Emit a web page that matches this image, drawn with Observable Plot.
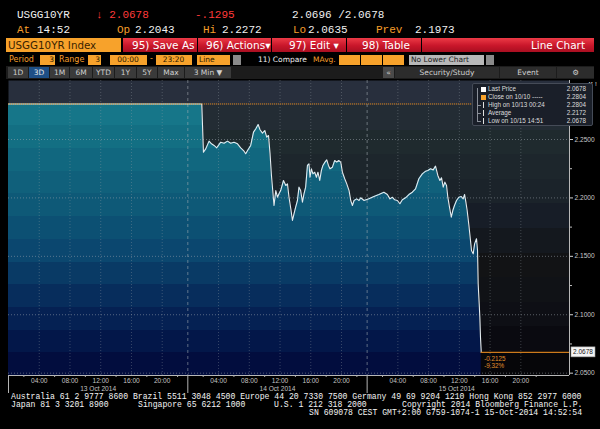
<!DOCTYPE html>
<html><head><meta charset="utf-8">
<script src="https://cdn.jsdelivr.net/npm/d3@7"></script>
<script src="https://cdn.jsdelivr.net/npm/@observablehq/plot@0.6"></script>
<style>
html,body{margin:0;padding:0;background:#000;}
body{width:600px;height:429px;overflow:hidden;position:relative;}
.a{position:absolute;white-space:pre;line-height:1;}
.m{font-family:"Liberation Mono","DejaVu Sans Mono",monospace;}
.s{font-family:"DejaVu Sans",sans-serif;}
.w{color:#f0f0f0}.o{color:#f59d2a}.r{color:#ff3a3a}
.box{position:absolute;box-sizing:border-box;}
.btn{position:absolute;top:38px;height:14px;background:linear-gradient(#ec3a46,#c8162a 55%,#a90f21);color:#fff;font:10.5px "DejaVu Sans",sans-serif;line-height:14px;white-space:pre;box-sizing:border-box;}
.ob{position:absolute;top:55px;height:10px;background:#f7a22b;color:#2a1800;font:7.5px "DejaVu Sans",sans-serif;line-height:10px;text-align:right;padding-right:1px;box-sizing:border-box;}
.tab{position:absolute;top:67px;height:11px;background:#3a3a3a;color:#cfcfcf;font:7.5px "DejaVu Sans",sans-serif;line-height:11px;text-align:center;}
.lg{position:absolute;font:6.3px "Liberation Sans",Arial,sans-serif;color:#dcdcdc;white-space:pre;line-height:1;}
.ft{position:absolute;font:8.15px "Liberation Mono",monospace;color:#f4f4f4;white-space:pre;line-height:1;}
</style></head><body>

<!-- header row 1 -->
<div class="a m w" style="left:17px;top:10px;font-size:11px">USGG10YR</div>
<div class="a m r" style="left:96px;top:10px;font-size:11px">↓ 2.0678</div>
<div class="a m r" style="left:195px;top:10px;font-size:11px">-.1295</div>
<div class="a m w" style="left:292px;top:10px;font-size:11px">2.0696 /2.0678</div>
<!-- header row 2 -->
<div class="a m o" style="left:17px;top:25px;font-size:11px">At</div>
<div class="a m w" style="left:37px;top:25px;font-size:11px">14:52</div>
<div class="a m o" style="left:117px;top:25px;font-size:11px">Op</div>
<div class="a m w" style="left:135px;top:25px;font-size:11px">2.2043</div>
<div class="a m o" style="left:203px;top:25px;font-size:11px">Hi</div>
<div class="a m w" style="left:222px;top:25px;font-size:11px">2.2272</div>
<div class="a m o" style="left:293px;top:25px;font-size:11px">Lo</div>
<div class="a m w" style="left:308px;top:25px;font-size:11px">2.0635</div>
<div class="a m o" style="left:376px;top:25px;font-size:11px">Prev</div>
<div class="a m w" style="left:415px;top:25px;font-size:11px">2.1973</div>

<!-- row 3 -->
<div class="box" style="left:6px;top:38px;width:115px;height:14px;background:#f7a22b;color:#3a2300;font:10.3px 'DejaVu Sans',sans-serif;line-height:14px;padding-left:2px;white-space:pre">USGG10YR Index</div>
<div class="btn" style="left:123px;width:74px;padding-left:9px">95) Save As</div>
<div class="btn" style="left:198px;width:73px;padding-left:8px">96) Actions▾</div>
<div class="btn" style="left:272px;width:74px;padding-left:17px">97) Edit ▾</div>
<div class="btn" style="left:347px;width:74px;padding-left:15px">98) Table</div>
<div class="btn" style="left:422px;width:172px;text-align:right;padding-right:9px">Line Chart</div>

<!-- row 4 -->
<div class="a s o" style="left:9px;top:56px;font-size:8px">Period</div>
<div class="ob" style="left:40px;width:15px">3</div>
<div class="a s o" style="left:59px;top:56px;font-size:8px">Range</div>
<div class="ob" style="left:88px;width:13px">3</div>
<div class="ob" style="left:110px;width:37px;text-align:center">00:00</div>
<div class="a s o" style="left:150px;top:55px;font-size:8px">-</div>
<div class="ob" style="left:156px;width:36px;text-align:center">23:20</div>
<div class="ob" style="left:197px;width:33px;text-align:left;padding-left:2px">Line</div>
<div class="box" style="left:233px;top:55px;width:8px;height:10px;background:#8a8a8a"></div>
<div class="a s w" style="left:258px;top:56px;font-size:7.5px">11) Compare</div>
<div class="a s o" style="left:313px;top:56px;font-size:7.5px">MAvg.</div>
<div class="ob" style="left:339px;width:21px"></div>
<div class="ob" style="left:361px;width:21px"></div>
<div class="ob" style="left:383px;width:21px"></div>
<div class="box" style="left:409px;top:55px;width:75px;height:10px;background:#b8b8b8;color:#222;font:7.5px 'DejaVu Sans',sans-serif;line-height:10px;padding-left:2px;white-space:pre">No Lower Chart</div>
<div class="box" style="left:486px;top:55px;width:8px;height:10px;background:#8a8a8a"></div>

<!-- row 5 -->
<div class="box" style="left:6px;top:66px;width:588px;height:13px;background:#1c1c1c"></div>
<div class="tab" style="left:8px;width:20px">1D</div>
<div class="tab" style="left:29px;width:20px;background:#1e4f86;color:#e8e8e8">3D</div>
<div class="tab" style="left:50px;width:19px">1M</div>
<div class="tab" style="left:70px;width:22px">6M</div>
<div class="tab" style="left:93px;width:21px">YTD</div>
<div class="tab" style="left:115px;width:21px">1Y</div>
<div class="tab" style="left:137px;width:20px">5Y</div>
<div class="tab" style="left:158px;width:26px">Max</div>
<div class="tab" style="left:185px;width:46px">3 Min ▼</div>
<div class="tab" style="left:383px;width:11px;background:#4a4a4a">«</div>
<div class="tab" style="left:395px;width:104px;background:#2c2c2c">   Security/Study</div>
<div class="tab" style="left:500px;width:56px;background:#2c2c2c">  Event</div>
<div class="tab" style="left:557px;width:37px;background:#2c2c2c">⚙</div>

<div id="chart" style="position:absolute;left:0;top:78px;"></div>

<!-- legend -->
<div id="legend" class="box" style="left:472px;top:83px;width:121px;height:43px;background:#1a1f29;border:1px solid #454b57;border-radius:2px"></div>

<!-- footer -->
<div class="ft" style="left:11px;top:393px">Australia 61 2 9777 8600 Brazil 5511 3048 4500 Europe 44 20 7330 7500 Germany 49 69 9204 1210 Hong Kong 852 2977 6000</div>
<div class="ft" style="left:11px;top:401px">Japan 81 3 3201 8900</div>
<div class="ft" style="left:138px;top:401px">Singapore 65 6212 1000</div>
<div class="ft" style="left:274px;top:401px">U.S. 1 212 318 2000</div>
<div class="ft" style="left:402px;top:401px">Copyright 2014 Bloomberg Finance L.P.</div>
<div class="ft" style="left:309px;top:409px">SN 609078 CEST GMT+2:00 G759-1074-1 15-Oct-2014 14:52:54</div>

<script>
// ---------- data ----------
const times = [
"13 00:00","14 01:49","14 02:02","14 02:20","14 02:46","14 03:05","14 03:25","14 03:46","14 04:17","14 04:43",
"14 05:10","14 05:35","14 06:01","14 06:28","14 06:53","14 07:19","14 07:32","14 07:50","14 08:11","14 08:33",
"14 08:51","14 09:09","14 09:24","14 09:43","14 10:01","14 10:16","14 10:30","14 10:42","14 10:53","14 11:03",
"14 11:13","14 11:27","14 11:40","14 11:52","14 12:05","14 12:27","14 12:45","14 12:58","14 13:10","14 13:24",
"14 13:37","14 13:49","14 14:02","14 14:16","14 14:28","14 14:41","14 14:55","14 15:07","14 15:20","14 15:34",
"14 15:46","14 15:54","14 16:05","14 16:17","14 16:31","14 16:44","14 16:56","14 17:10","14 17:23","14 17:35",
"14 17:51","14 18:05","14 18:18","14 18:30","14 18:49","14 19:07","14 19:23","14 19:38","14 19:54","14 20:07",
"14 20:25","14 20:41","14 20:59","14 21:12","14 21:25","14 21:38","14 21:59","14 22:17","14 22:30","14 22:56",
"15 00:14","15 00:53","15 01:32","15 02:11","15 02:38","15 02:58","15 03:17","15 03:35","15 03:56","15 04:16",
"15 04:35","15 05:00","15 05:26","15 05:53","15 06:18","15 06:44","15 07:11","15 07:37","15 07:54","15 08:15",
"15 08:36","15 08:54","15 09:12","15 09:28","15 09:41","15 09:54","15 10:07","15 10:20","15 10:30","15 10:43",
"15 10:57","15 11:09","15 11:22","15 11:38","15 11:56","15 12:15","15 12:30","15 12:41","15 12:51","15 13:01",
"15 13:14","15 13:27","15 13:35","15 13:48","15 13:59","15 14:14","15 14:22","15 14:27","15 14:35","15 14:40",
"15 14:45","15 14:51"];
const yields = [
2.2804,2.2804,2.2391,2.2420,2.2486,2.2463,2.2449,2.2429,2.2477,2.2468,
2.2486,2.2468,2.2477,2.2463,2.2429,2.2400,2.2378,2.2412,2.2449,2.2563,
2.2592,2.2628,2.2583,2.2554,2.2577,2.2520,2.2534,2.2378,2.2192,2.2063,
2.1935,2.2063,2.2006,2.2035,2.2063,2.2149,2.2106,2.2120,2.2006,2.1908,
2.1807,2.1864,2.1921,2.1978,2.2092,2.2063,2.1964,2.2035,2.2092,2.2278,
2.2292,2.2177,2.2249,2.2206,2.2220,2.2177,2.2220,2.2149,2.2235,2.2278,
2.2306,2.2326,2.2278,2.2249,2.2263,2.2320,2.2306,2.2320,2.2306,2.2220,
2.2164,2.2120,2.2063,2.1978,2.1935,2.1978,2.1992,2.1978,2.2001,2.1978,
2.1992,2.2012,2.2029,2.2049,2.2029,2.1992,2.2006,2.1984,2.1978,2.1950,
2.1984,2.2001,2.2029,2.2049,2.2078,2.2164,2.2206,2.2229,2.2235,2.2249,
2.2240,2.2272,2.2192,2.2149,2.2172,2.2092,2.2135,2.2106,2.2006,2.1921,
2.1835,2.1892,2.1935,2.1978,2.2006,2.2012,2.1992,2.2029,2.1964,2.1892,
2.1770,2.1635,2.1550,2.1521,2.1607,2.1650,2.1550,2.1264,2.1093,2.0979,
2.0808,2.0678];

const prevClose = 2.2804;
const lastPrice = 2.0678;
const changeLabels = ["-0.2125","-9.32%"];

const dayNums = [13,14,15];
const dayLabels = ["13 Oct 2014","14 Oct 2014","15 Oct 2014"];
const hourLabels = ["04:00","08:00","12:00","16:00","20:00"];
const minorHourLabels = ["02:00","06:00","10:00","14:00","18:00","22:00"];
const yTicks = [2.05,2.10,2.15,2.20,2.25];
const yMinorTicks = [2.075,2.125,2.175,2.225,2.275];

const legendLabels = ["Last Price","Close on 10/10 -----","High on 10/13 00:24","Average","Low on 10/15 14:51"];
const legendValues = ["2.0678","2.2804","2.2804","2.2172","2.0678"];

// ---------- session-compressed time axis (00:00–23:20 each day) ----------
const DAY = 23 + 1/3;
function pos(s){const [d,hm]=s.split(" ");const [h,m]=hm.split(":").map(Number);return (+d-13)*DAY+h+m/60;}
const data = times.map((t,i)=>({x:pos(t), y:yields[i]}));

const xDomain = [0, 73];
const yDomain = [2.048, 2.3005];

const majorX = [], majorLab = new Map();
dayNums.forEach(d=>hourLabels.forEach(h=>{const p=pos(d+" "+h);majorX.push(p);majorLab.set(p.toFixed(3),h);}));
const minorX = [];
dayNums.forEach(d=>minorHourLabels.forEach(h=>{const p=pos(d+" "+h);if(p<xDomain[1])minorX.push(p);}));
const dayStarts = dayNums.map(d=>pos(d+" 00:00"));
const dayMids = dayStarts.map(p=>p+DAY/2);
const dayLab = new Map(dayMids.map((p,i)=>[p.toFixed(3),dayLabels[i]]));
const lastX = data[data.length-1].x;

const chart = Plot.plot({
  width: 600, height: 320,
  marginLeft: 8, marginRight: 31, marginTop: 2, marginBottom: 23,
  style: {background:"transparent", fontFamily:"Liberation Sans, Arial, sans-serif", fontSize:"6.6px", color:"#c8c8c8", overflow:"visible"},
  x: {domain: xDomain, axis: null},
  y: {domain: yDomain, axis: null},
  marks: [
    Plot.frame({fill:"url(#bgGrad)", stroke:null}),
    Plot.areaY(data, {x:"x", y:"y", fill:"url(#areaGrad)", clip:true}),
    Plot.gridY(yTicks, {stroke:"#a4aab2", strokeOpacity:0.5, strokeDasharray:"1,2"}),
    Plot.gridX(majorX.filter(p=>p<xDomain[1]), {stroke:"#9aa2aa", strokeOpacity:0.35, strokeDasharray:"1,2"}),
    Plot.ruleX(dayStarts.slice(1), {stroke:"#a8aeb6", strokeOpacity:0.55, strokeDasharray:"3,3"}),
    Plot.line(data, {x:"x", y:"y", stroke:"#e4ecf0", strokeWidth:1.1}),
    Plot.ruleY([prevClose], {stroke:"#d8861e", strokeWidth:1, strokeDasharray:"1.2,0.8"}),
    Plot.ruleY([{y:lastPrice, x1:lastX, x2:xDomain[1]}], {y:"y", x1:"x1", x2:"x2", stroke:"#cc7a1c", strokeWidth:1.3}),
    Plot.text([{x:lastX, y:lastPrice, t:changeLabels[0]}], {x:"x", y:"y", text:"t", dx:3, dy:7, textAnchor:"start", fill:"#e0902c", fontSize:6.3}),
    Plot.text([{x:lastX, y:lastPrice, t:changeLabels[1]}], {x:"x", y:"y", text:"t", dx:3, dy:14, textAnchor:"start", fill:"#e0902c", fontSize:6.3}),
    Plot.ruleY([yDomain[0]], {stroke:"#b8b8b8"}),
    Plot.ruleX([xDomain[1]], {stroke:"#b8b8b8"}),
    Plot.axisY(yTicks, {anchor:"right", tickSize:3, tickPadding:2, tickFormat:d=>d.toFixed(4), stroke:"#d0d0d0", fill:"#c8c8c8"}),
    Plot.axisY(yMinorTicks, {anchor:"right", tickSize:2, tickPadding:0, tickFormat:()=>"", stroke:"#c0c0c0"}),
    Plot.axisX(majorX, {anchor:"bottom", tickSize:0, tickPadding:3, tickFormat:d=>majorLab.get(d.toFixed(3)), fill:"#c4c4c4"}),
    Plot.axisX(minorX, {anchor:"bottom", tickSize:2, tickPadding:0, tickFormat:()=>"", stroke:"#b0b0b0"}),
    Plot.axisX(dayStarts, {anchor:"bottom", tickSize:18, tickPadding:0, tickFormat:()=>"", stroke:"#b4b4b4"}),
    Plot.axisX(dayMids, {anchor:"bottom", tickSize:0, tickPadding:10.5, tickFormat:d=>dayLab.get(d.toFixed(3)), fill:"#c4c4c4"})
  ]
});
document.getElementById("chart").appendChild(chart);

// ---------- gradients (banded, Bloomberg style) ----------
const svg = d3.select(chart.tagName.toLowerCase()==="svg" ? chart : chart.querySelector("svg"));
const defs = svg.insert("defs", ":first-child");
function banded(id, anchors, n){
  const g = defs.append("linearGradient").attr("id", id).attr("gradientUnits","userSpaceOnUse")
    .attr("x1",0).attr("x2",0).attr("y1",2).attr("y2",297);
  const interp = d3.piecewise(d3.interpolateRgb, anchors.map(a=>a[1]));
  const offs = anchors.map(a=>a[0]);
  const sc = d3.scaleLinear().domain(offs).range(offs.map((_,i)=>i/(offs.length-1)));
  for(let i=0;i<n;i++){
    const c = interp(sc((i+0.5)/n));
    g.append("stop").attr("offset", i/n).attr("stop-color", c);
    g.append("stop").attr("offset", (i+1)/n).attr("stop-color", c);
  }
}
banded("areaGrad", [[0,"#187e8f"],[0.07,"#177b8c"],[0.24,"#126a80"],[0.41,"#0e5a78"],[0.58,"#0b476f"],[0.71,"#08305e"],[0.85,"#041b4e"],[1,"#010838"]], 13);
banded("bgGrad", [[0,"#2c3144"],[0.07,"#262d39"],[0.2,"#1f2a2e"],[0.4,"#1a2229"],[0.5,"#151a25"],[0.6,"#131415"],[0.78,"#0e1016"],[0.9,"#09090e"],[1,"#040406"]], 12);

// ---------- last price tag on the right axis ----------
const ys = chart.scale("y");
const yPix = v => ys.range[0] + (v-ys.domain[0])/(ys.domain[1]-ys.domain[0])*(ys.range[1]-ys.range[0]);
const ly = yPix(lastPrice);
const tag = svg.append("g");
tag.append("rect").attr("x",571).attr("y",ly-5).attr("width",24).attr("height",10).attr("fill","#f4f4f4").attr("stroke","#9a9a9a").attr("stroke-width",0.6);
tag.append("text").attr("x",583).attr("y",ly+2.3).attr("text-anchor","middle").attr("font-size",6.5).attr("fill","#222").text(legendValues[0]);

// ---------- legend ----------
const lg = document.getElementById("legend");
const rowsTop = [2,10,18,26,34];
legendLabels.forEach((lab,i)=>{
  const t=document.createElement("div");t.className="lg";t.style.left="15px";t.style.top=rowsTop[i]+"px";t.textContent=lab;lg.appendChild(t);
  const v=document.createElement("div");v.className="lg";v.style.right="6px";v.style.top=rowsTop[i]+"px";v.textContent=legendValues[i];lg.appendChild(v);
});
const icons = [["#ffffff",1],["#f7a22b",1]];
icons.forEach((c,i)=>{const d=document.createElement("div");d.className="box";d.style.cssText=`left:8px;top:${rowsTop[i]+0.5}px;width:5px;height:5px;background:${c[0]}`;lg.appendChild(d);});
const tree=document.createElement("div");tree.className="box";tree.style.cssText="left:4px;top:4px;width:1px;height:33px;background:#8a8f98";lg.appendChild(tree);
[2,3,4].forEach(i=>{const d=document.createElement("div");d.className="box";d.style.cssText=`left:10px;top:${rowsTop[i]}px;width:1px;height:6px;background:#e0e0e0`;lg.appendChild(d);
 const h=document.createElement("div");h.className="box";h.style.cssText=`left:4px;top:${rowsTop[i]+3}px;width:4px;height:1px;background:#8a8f98`;lg.appendChild(h);});
</script>
</body></html>
